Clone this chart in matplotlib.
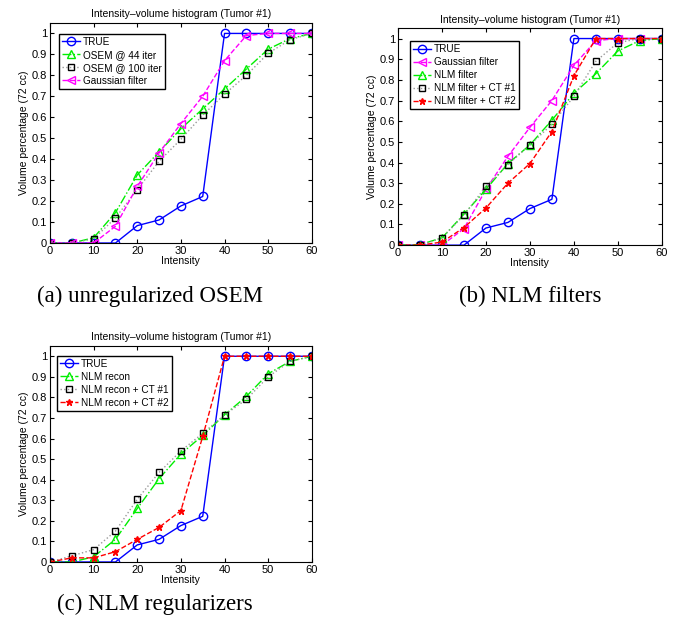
import matplotlib
matplotlib.use("Agg")
import matplotlib.pyplot as plt

plt.rcParams['font.family'] = ['Liberation Sans', 'DejaVu Sans']

# intensity bins
intensity = [0, 5, 10, 15, 20, 25, 30, 35, 40, 45, 50, 55, 60]

# panel (a)
true_ivh = [0, 0, 0, 0, 0.083, 0.11, 0.177, 0.222, 1, 1, 1, 1, 1]
osem44 = [0, 0, 0.025, 0.145, 0.325, 0.435, 0.545, 0.64, 0.735, 0.83, 0.925, 0.975, 1]
osem100 = [0, 0, 0.02, 0.12, 0.255, 0.39, 0.495, 0.61, 0.71, 0.80, 0.905, 0.97, 1]
gauss = [0, 0, 0, 0.08, 0.27, 0.43, 0.57, 0.70, 0.87, 0.99, 1, 1, 1]

# panel (b)
nlm_filt = [0, 0.003, 0.035, 0.15, 0.27, 0.395, 0.485, 0.605, 0.735, 0.83, 0.94, 0.99, 1]
nlm_filt_ct1 = [0, 0, 0.035, 0.145, 0.285, 0.39, 0.485, 0.585, 0.72, 0.89, 0.98, 1, 1]
nlm_filt_ct2 = [0, 0, 0.015, 0.085, 0.18, 0.30, 0.395, 0.55, 0.82, 1, 1, 1, 1]

# panel (c)
nlm_rec = [0, 0, 0.025, 0.11, 0.26, 0.405, 0.525, 0.615, 0.715, 0.805, 0.915, 0.975, 1]
nlm_rec_ct1 = [0, 0.03, 0.06, 0.15, 0.305, 0.435, 0.54, 0.625, 0.715, 0.79, 0.90, 0.975, 1]
nlm_rec_ct2 = [0, 0.02, 0.02, 0.05, 0.11, 0.168, 0.25, 0.61, 1, 1, 1, 1, 1]

styles = {
    'true': dict(color='blue', ls='-', marker='o', mfc='none', ms=6, lw=1),
    'green': dict(color='#00ee00', ls='-.', marker='^', mfc='none', ms=6, lw=1),
    'black': dict(color='#999999', ls=':', marker='s', mfc='none', mec='black', ms=4.5, lw=1),
    'magenta': dict(color='magenta', ls='--', marker='<', mfc='none', ms=6, lw=1),
    'red': dict(color='red', ls='--', marker='*', mfc='red', ms=5, lw=1),
}

fig = plt.figure(figsize=(6.73, 6.27), dpi=100)


def panel(rect, series, legend_anchor):
    ax = fig.add_axes(rect)
    for y, key, lab in series:
        ax.plot(intensity, y, label=lab, **styles[key])
    ax.set_xlim(0, 60)
    ax.set_ylim(0, 1.05)
    ax.set_xticks([0, 10, 20, 30, 40, 50, 60])
    ax.set_yticks([i / 10 for i in range(11)])
    ax.set_yticklabels(['0', '0.1', '0.2', '0.3', '0.4', '0.5', '0.6', '0.7', '0.8', '0.9', '1'])
    ax.tick_params(direction='in', top=True, right=True, labelsize=8, length=3, pad=2)
    ax.set_title('Intensity\u2013volume histogram (Tumor #1)', fontsize=7.5, pad=4)
    ax.set_xlabel('Intensity', fontsize=7.5, labelpad=0)
    ax.set_ylabel('Volume percentage (72 cc)', fontsize=7.5, labelpad=2)
    leg = ax.legend(loc='upper left', bbox_to_anchor=legend_anchor, fontsize=7.2,
                    fancybox=False, edgecolor='black', framealpha=1,
                    handlelength=1.8, handletextpad=0.3, borderpad=0.3,
                    labelspacing=0.3, borderaxespad=0)
    leg.get_frame().set_linewidth(1)
    return ax


panel([0.0743, 0.6124, 0.389, 0.351],
      [(true_ivh, 'true', 'TRUE'),
       (osem44, 'green', 'OSEM @ 44 iter'),
       (osem100, 'black', 'OSEM @ 100 iter'),
       (gauss, 'magenta', 'Gaussian filter')],
      (0.034, 0.95))

panel([0.5914, 0.609, 0.392, 0.346],
      [(true_ivh, 'true', 'TRUE'),
       (gauss, 'magenta', 'Gaussian filter'),
       (nlm_filt, 'green', 'NLM filter'),
       (nlm_filt_ct1, 'black', 'NLM filter + CT #1'),
       (nlm_filt_ct2, 'red', 'NLM filter + CT #2')],
      (0.045, 0.94))

panel([0.0743, 0.1037, 0.389, 0.3445],
      [(true_ivh, 'true', 'TRUE'),
       (nlm_rec, 'green', 'NLM recon'),
       (nlm_rec_ct1, 'black', 'NLM recon + CT #1'),
       (nlm_rec_ct2, 'red', 'NLM recon + CT #2')],
      (0.027, 0.955))

cap = dict(fontsize=16.5, family=['Liberation Serif', 'DejaVu Serif'], ha='center', va='center')
fig.text(150 / 673, 1 - 296 / 627, '(a) unregularized OSEM', **cap)
fig.text(530 / 673, 1 - 296 / 627, '(b) NLM filters', **cap)
fig.text(155 / 673, 1 - 604 / 627, '(c) NLM regularizers', **cap)

fig.savefig('out.png', dpi=100)
